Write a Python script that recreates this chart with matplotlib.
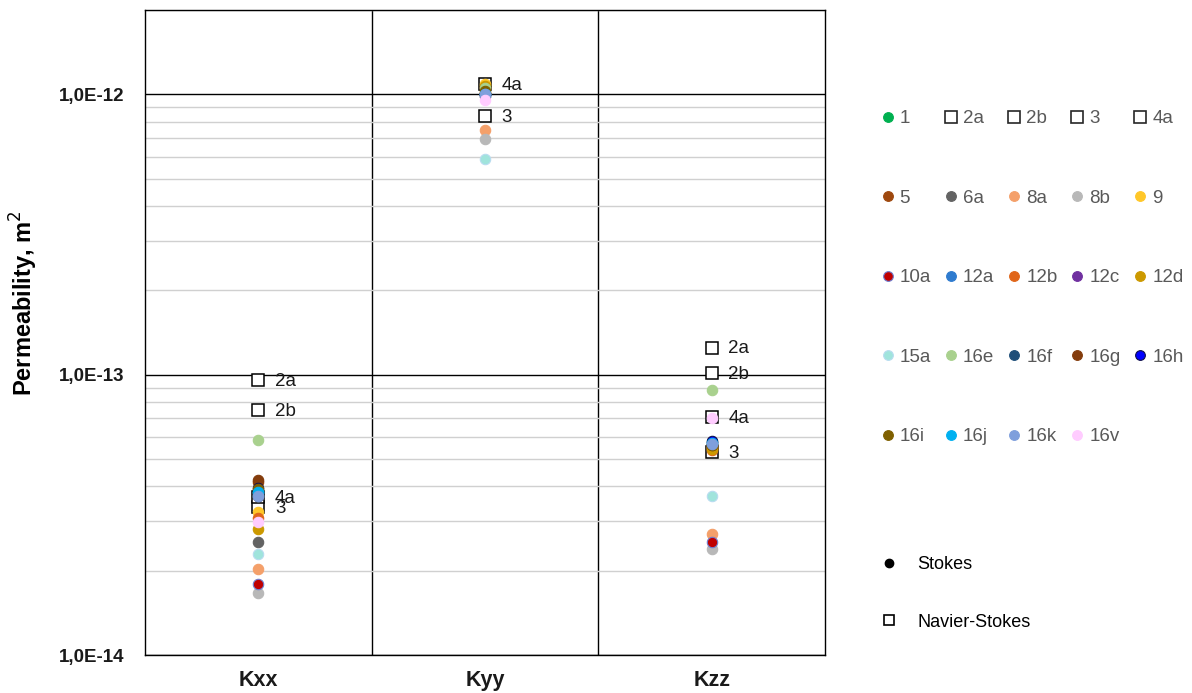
import matplotlib
matplotlib.use('Agg')
import matplotlib.pyplot as plt
from matplotlib.lines import Line2D
from matplotlib.ticker import FixedLocator, LogLocator, FuncFormatter, NullFormatter
import numpy as np

plt.rcParams['font.family'] = ['Liberation Sans', 'DejaVu Sans']

# permeability components (x axis categories)
components = ['Kxx', 'Kyy', 'Kzz']

# series names (legend order) and their values per component, m^2 (None = no point)
series = ['1', '2a', '2b', '3', '4a', '5', '6a', '8a', '8b', '9',
          '10a', '12a', '12b', '12c', '12d', '15a', '16e', '16f', '16g', '16h',
          '16i', '16j', '16k', '16v']
kxx = [3.70e-14, 9.60e-14, 7.50e-14, 3.38e-14, 3.66e-14, 4.15e-14, 2.52e-14, 2.02e-14, 1.66e-14, 3.25e-14,
       1.79e-14, 3.80e-14, 3.08e-14, 3.70e-14, 2.82e-14, 2.30e-14, 5.85e-14, 3.75e-14, 4.22e-14, 3.94e-14,
       3.90e-14, 3.80e-14, 3.70e-14, 2.97e-14]
kyy = [1.00e-12, None, None, 8.37e-13, 1.09e-12, 1.00e-12, 1.00e-12, 7.45e-13, 6.95e-13, 1.09e-12,
       1.00e-12, 1.00e-12, 1.05e-12, 1.00e-12, 1.07e-12, 5.90e-13, 1.05e-12, 1.00e-12, 1.01e-12, 0.99e-12,
       1.03e-12, 1.00e-12, 1.00e-12, 9.55e-13]
kzz = [5.60e-14, 1.25e-13, 1.01e-13, 5.28e-14, 7.06e-14, 5.50e-14, 5.60e-14, 2.70e-14, 2.38e-14, 5.50e-14,
       2.54e-14, 5.70e-14, 5.40e-14, 5.60e-14, 5.45e-14, 3.70e-14, 8.85e-14, 5.75e-14, 5.60e-14, 5.80e-14,
       5.60e-14, 5.70e-14, 5.65e-14, 7.00e-14]

# Navier-Stokes series get hollow squares, the rest are Stokes circles
navier_stokes = {'2a', '2b', '3', '4a'}
labelled = {'Kxx': ['2a', '2b', '4a', '3'], 'Kyy': ['4a', '3'], 'Kzz': ['2a', '2b', '4a', '3']}

colors = {
    '1': '#00b050', '5': '#9e480e', '6a': '#636363', '8a': '#f4a06a', '8b': '#b8b8b8',
    '9': '#ffc729', '10a': '#c00000', '12a': '#2e7bcf', '12b': '#e0661a', '12c': '#7030a0',
    '12d': '#cc9900', '15a': '#a0e4dc', '16e': '#a9d18e', '16f': '#1f4e79', '16g': '#843c0c',
    '16h': '#0000ff', '16i': '#7f6000', '16j': '#00b0f0', '16k': '#7f9fdc', '16v': '#ffccff',
}
edges = {'10a': '#6f7fd0', '15a': '#b8dcf0', '16h': '#10104a'}

fig = plt.figure(figsize=(11.92, 6.93), dpi=100)
ax = fig.add_axes([145 / 1192, 1 - 655 / 693, 680 / 1192, 645 / 693])

values = [kxx, kyy, kzz]
for i, name in enumerate(series):
    xs = [j for j in range(3) if values[j][i] is not None]
    ys = [values[j][i] for j in xs]
    if name in navier_stokes:
        ax.plot(xs, ys, 's', ms=8.5, mfc='white', mec='black', mew=1.1, zorder=3)
    else:
        ax.plot(xs, ys, 'o', ms=7.5, mfc=colors[name], mec=edges.get(name, colors[name]),
                mew=0.8, zorder=4)

# data labels next to the squares
for j, comp in enumerate(components):
    for name in labelled[comp]:
        v = values[j][series.index(name)]
        ax.annotate(name, (j, v), xytext=(12, -1), textcoords='offset points',
                    va='center', ha='left', fontsize=13.5, color='#1a1a1a', zorder=6)

ax.set_yscale('log')
ax.set_ylim(1e-14, 2e-12)
ax.set_xlim(-0.5, 2.5)
ax.yaxis.set_major_locator(FixedLocator([1e-14, 1e-13, 1e-12]))
ax.yaxis.set_minor_locator(LogLocator(base=10, subs=np.arange(2, 10)))
ax.yaxis.set_minor_formatter(NullFormatter())
ax.yaxis.set_major_formatter(FuncFormatter(lambda v, p: '1,0E%d' % round(np.log10(v))))
ax.set_xticks(range(3))
ax.set_xticklabels(components)
ax.set_xticks([0.5, 1.5], minor=True)
ax.tick_params(which='both', length=0)
ax.tick_params(axis='y', labelsize=13.5, pad=15)
ax.tick_params(axis='x', labelsize=15.5, pad=11)
for lab in ax.get_xticklabels() + ax.get_yticklabels():
    lab.set_fontweight('bold')
    lab.set_color('#1a1a1a')

ax.grid(True, axis='y', which='minor', color='#d0d0d0', lw=1, zorder=0)
ax.grid(True, axis='y', which='major', color='black', lw=1, zorder=1)
ax.grid(True, axis='x', which='minor', color='black', lw=1, zorder=1)
ax.set_axisbelow(True)
for sp in ax.spines.values():
    sp.set_linewidth(1)
    sp.set_color('black')

ax.set_ylabel('Permeability, m$^2$', fontsize=17, fontweight='bold', va='center')
ax.yaxis.set_label_coords(-0.178, 0.545)

# legend of series, filled row by row in 5 columns
ncol = 5
order = [i for c in range(ncol) for i in range(c, len(series), ncol)]
leg_handles = []
for i in order:
    name = series[i]
    if name in navier_stokes:
        leg_handles.append(Line2D([], [], ls='none', marker='s', ms=8, mfc='white', mec='#262626', mew=1.2))
    else:
        leg_handles.append(Line2D([], [], ls='none', marker='o', ms=7, mfc=colors[name],
                                  mec=edges.get(name, colors[name]), mew=0.8))
fig.legend(leg_handles, [series[i] for i in order], ncol=ncol, loc='upper left',
           bbox_to_anchor=(880 / 1192, 1 - 110 / 693), frameon=False,
           fontsize=13.5, labelcolor='#595959', handlelength=0.8, handletextpad=0.25,
           columnspacing=0.65, labelspacing=3.33, borderpad=0, borderaxespad=0)

# model type legend
type_handles = [Line2D([], [], ls='none', marker='o', ms=6, mfc='black', mec='black'),
                Line2D([], [], ls='none', marker='s', ms=7.5, mfc='white', mec='black', mew=1.2)]
fig.legend(type_handles, ['Stokes', 'Navier-Stokes'], loc='upper left',
           bbox_to_anchor=(880 / 1192, 1 - 556 / 693), frameon=False, fontsize=13,
           handlelength=1.0, handletextpad=1.05, labelspacing=2.25, borderpad=0, borderaxespad=0)

fig.savefig('out.png', dpi=100)
